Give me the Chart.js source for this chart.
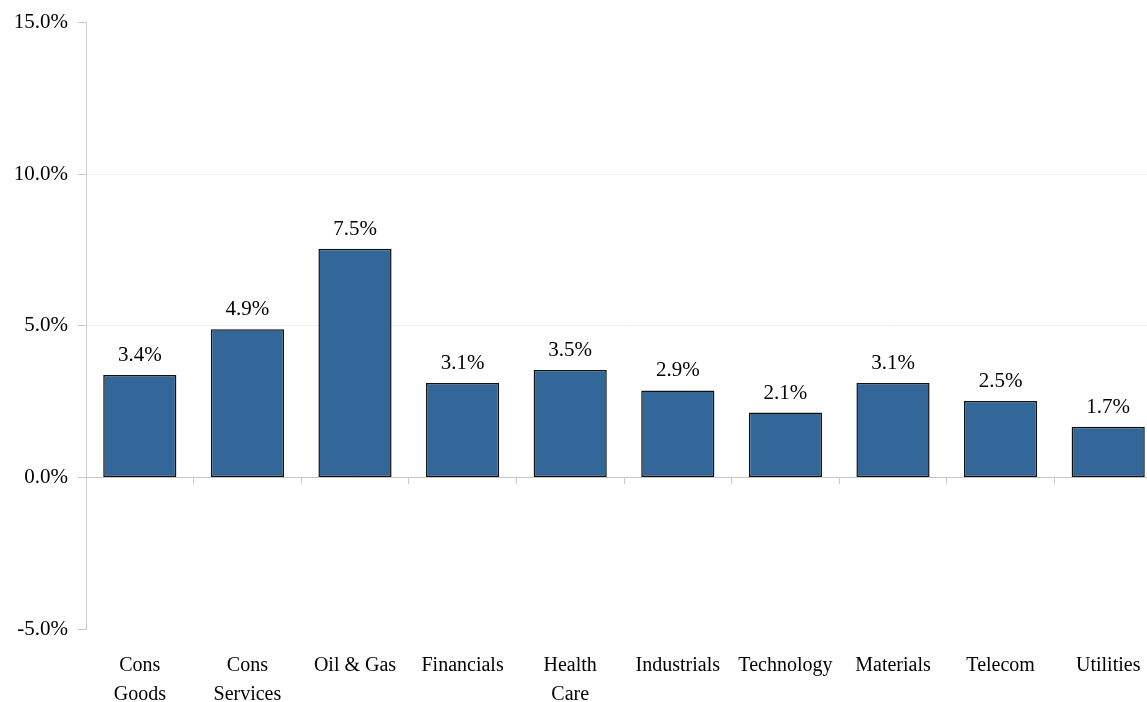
<!DOCTYPE html>
<html>
<head>
<meta charset="utf-8">
<script src="https://cdn.jsdelivr.net/npm/chart.js@4"></script>
<style>
  html, body { margin: 0; padding: 0; background: #fff; overflow: hidden; }
  #wrap { width: 1162px; height: 702px; }
</style>
</head>
<body>
<div id="wrap"><canvas id="c" width="1162" height="702"></canvas></div>
<script>
const categories = [
  ['Cons', 'Goods'], ['Cons', 'Services'], 'Oil & Gas', 'Financials', ['Health', 'Care'],
  'Industrials', 'Technology', 'Materials', 'Telecom', 'Utilities'
];
const returns = [3.38, 4.89, 7.54, 3.11, 3.54, 2.87, 2.14, 3.11, 2.52, 1.67];
const yTicks = [-5, 0, 5, 10, 15];

const FONT = 'Liberation Serif, Times New Roman, serif';

const valueLabels = {
  id: 'valueLabels',
  afterDatasetsDraw(chart) {
    const ctx = chart.ctx;
    const meta = chart.getDatasetMeta(0);
    ctx.save();
    ctx.font = '21px ' + FONT;
    ctx.fillStyle = '#000';
    ctx.textAlign = 'center';
    ctx.textBaseline = 'bottom';
    meta.data.forEach((bar, i) => {
      ctx.fillText(returns[i].toFixed(1) + '%', bar.x, bar.y - 9);
    });
    ctx.restore();
  }
};

new Chart(document.getElementById('c'), {
  type: 'bar',
  data: {
    labels: categories,
    datasets: [{
      data: returns,
      backgroundColor: '#336699',
      borderColor: '#111',
      borderWidth: 1.5,
      borderSkipped: false,
      categoryPercentage: 1,
      barPercentage: 0.68
    }]
  },
  options: {
    responsive: false,
    animation: false,
    layout: { padding: { top: 20, left: 0, right: 0, bottom: 0 } },
    plugins: { legend: { display: false }, tooltip: { enabled: false } },
    scales: {
      x: {
        type: 'category',
        position: 'bottom',
        offset: true,
        grid: { display: false },
        border: { display: false },
        ticks: {
          color: '#000',
          font: { family: FONT, size: 20, lineHeight: 1.45 },
          padding: 14,
          maxRotation: 0,
          autoSkip: false
        },
        afterFit(scale) { scale.height = 73; }
      },
      x2: {
        type: 'category',
        axis: 'x',
        labels: categories,
        position: { y: 0 },
        offset: true,
        grid: {
          offset: true,
          drawOnChartArea: false,
          drawTicks: true,
          tickLength: 7,
          tickColor: '#cccccc'
        },
        border: { display: false },
        ticks: { display: false }
      },
      y: {
        min: -5,
        max: 15,
        afterBuildTicks(scale) { scale.ticks = yTicks.map(v => ({ value: v })); },
        grid: {
          color(ctx) {
            const v = ctx.tick ? ctx.tick.value : null;
            if (v === 0) return '#c4c4c4';
            if (v === 5 || v === 10) return '#efefef';
            return 'rgba(0,0,0,0)';
          },
          tickColor: '#c8c8c8',
          tickLength: 8,
          lineWidth: 1
        },
        border: { display: true, color: '#cccccc', width: 1 },
        ticks: {
          color: '#000',
          font: { family: FONT, size: 21 },
          padding: 10,
          callback: v => v.toFixed(1) + '%'
        },
        afterFit(scale) { scale.width = 86; }
      }
    }
  },
  plugins: [valueLabels]
});
</script>
</body>
</html>
